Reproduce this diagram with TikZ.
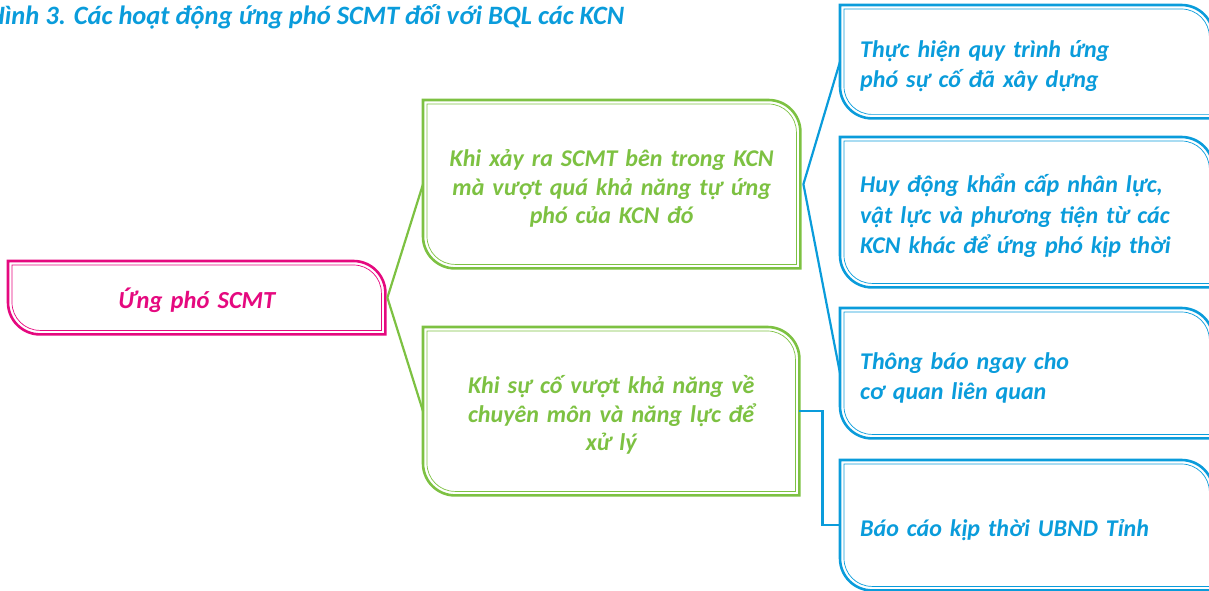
\documentclass[tikz,border=0pt]{standalone}
\usepackage{fontspec}
\setmainfont{Carlito}
\definecolor{pk}{HTML}{E5097F}
\definecolor{gr}{HTML}{7DC142}
\definecolor{bl}{HTML}{0A9CDB}
\newcommand\dframe[2]{%
  \draw[#2, line width=2.6pt] (#1.north west) -- ([xshift=-32pt]#1.north east)
    arc[start angle=90,end angle=0,radius=32pt] -- (#1.south east)
    -- ([xshift=32pt]#1.south west) arc[start angle=270,end angle=180,radius=32pt] -- cycle;
  \draw[#2, line width=0.7pt] ([shift={(4pt,-4pt)}]#1.north west) -- ([shift={(-32pt,-4pt)}]#1.north east)
    arc[start angle=90,end angle=0,radius=28pt] -- ([shift={(-4pt,4pt)}]#1.south east)
    -- ([shift={(32pt,4pt)}]#1.south west) arc[start angle=270,end angle=180,radius=28pt] -- cycle;}
\tikzset{
  txt/.style={font=\fontsize{24}{30}\selectfont\bfseries\itshape},
  boxnode/.style={txt, anchor=north west, inner xsep=20pt, inner ysep=0pt, text height=26pt},
  bluebox/.style={boxnode, text=bl, align=left, font=\fontsize{24}{30.5}\selectfont\bfseries\itshape},
  greenbox/.style={boxnode, text=gr, align=center, font=\fontsize{24}{28.5}\selectfont\bfseries\itshape},
  conn/.style={line width=2.2pt}
}
\begin{document}
\begin{tikzpicture}[x=1pt,y=-1pt]
\useasboundingbox (0,0) rectangle (1209,591);
\clip (0,0) rectangle (1209,591);
\node[text=bl, anchor=base west, inner sep=0pt, font=\fontsize{26.5}{30}\selectfont\bfseries\itshape] (title) at (-12,25) {Hình 3. Các hoạt động ứng phó SCMT đối với BQL các KCN};
% nodes
\node[boxnode, text=pk, align=center, text width=337pt, minimum height=73pt, font=\fontsize{24.5}{30}\selectfont\bfseries\itshape] (p) at (8,261) {Ứng phó SCMT};
\node[greenbox, text width=337pt, minimum height=168pt] (g1) at (423,100) {Khi xảy ra SCMT bên trong KCN\\mà vượt quá khả năng tự ứng\\phó của KCN đó};
\node[greenbox, text width=336pt, minimum height=168pt] (g2) at (423,327) {Khi sự cố vượt khả năng về\\chuyên môn và năng lực để\\xử lý};
\node[bluebox, text width=333pt, minimum height=113pt] (b1) at (840,5) {Thực hiện quy trình ứng\\phó sự cố đã xây dựng};
\node[bluebox, text width=333pt, minimum height=150pt] (b2) at (840,137) {Huy động khẩn cấp nhân lực,\\vật lực và phương tiện từ các\\KCN khác để ứng phó kịp thời};
\node[bluebox, text width=333pt, minimum height=130pt] (b3) at (840,308) {Thông báo ngay cho\\cơ quan liên quan};
\node[bluebox, text width=333pt, minimum height=130pt] (b4) at (840,460) {Báo cáo kịp thời UBND Tỉnh};
% frames
\dframe{p}{pk}
\dframe{g1}{gr}
\dframe{g2}{gr}
\dframe{b1}{bl}
\dframe{b2}{bl}
\dframe{b3}{bl}
\dframe{b4}{bl}
% connectors
\draw[conn, gr] (g1.west) -- ([xshift=2pt]p.east) -- (g2.west);
\draw[conn, bl] (b1.west) -- ([xshift=3pt]g1.east) -- (b3.west);
\draw[conn, bl] (g2.east) -- ++(23,0) |- (b4.west);
\end{tikzpicture}
\end{document}
